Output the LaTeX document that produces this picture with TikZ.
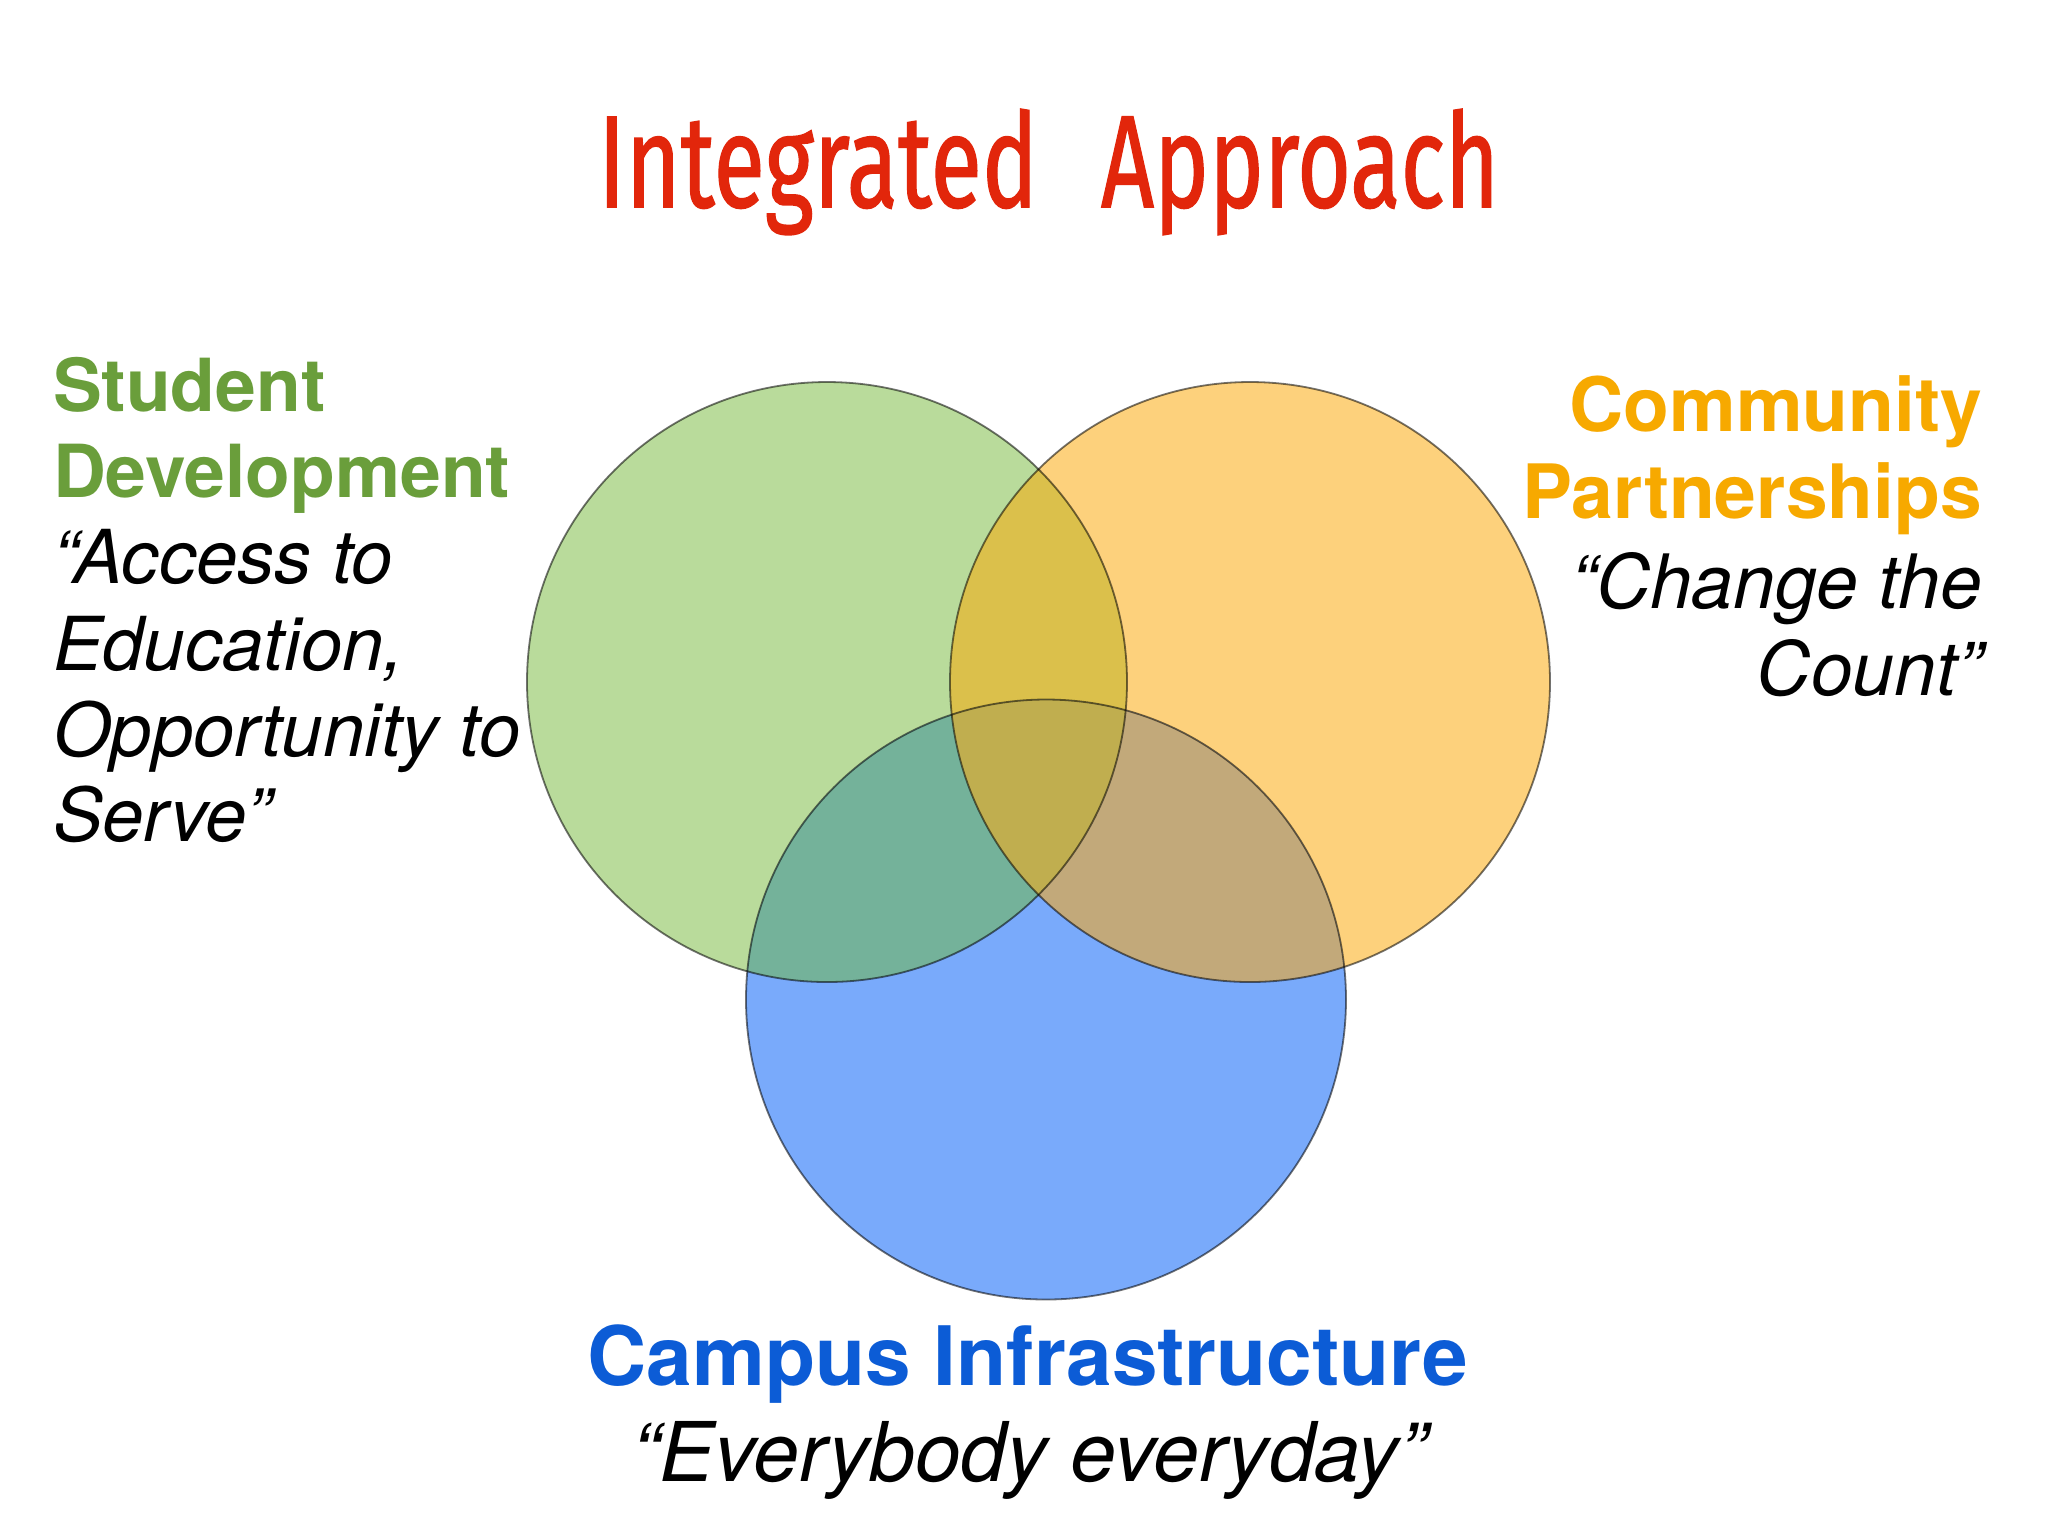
\documentclass[tikz,border=0pt]{standalone}
\usepackage{graphicx}
\usepackage{fontspec}
\setmainfont{TeX Gyre Heros}
\newfontfamily\titlefont[FakeBold=1.2]{Fira Sans}
\definecolor{gfill}{HTML}{B9DB9B}
\definecolor{ofill}{HTML}{FDD17C}
\definecolor{bfill}{HTML}{79AAFB}
\definecolor{gofill}{HTML}{DBC04B}
\definecolor{gbfill}{HTML}{74B29A}
\definecolor{obfill}{HTML}{C2A97A}
\definecolor{allfill}{HTML}{C0AE4F}
\definecolor{gtext}{HTML}{6A9E3B}
\definecolor{otext}{HTML}{F7A900}
\definecolor{btext}{HTML}{0C5CD6}
\definecolor{ttext}{HTML}{E2260B}
\tikzset{
  outline/.style={draw=black, draw opacity=0.55, line width=0.45pt},
  txt/.style={inner sep=0pt, outer sep=0pt},
  ttl/.style={txt, anchor=base west, text=ttext},
  lbold/.style={txt, anchor=base west, text=gtext, font=\fontsize{18.3}{21.5}\selectfont\bfseries},
  lital/.style={txt, anchor=base west, text=black, font=\fontsize{18.6}{21.5}\selectfont\itshape},
  rbold/.style={txt, anchor=base east, text=otext, font=\fontsize{18.75}{22}\selectfont\bfseries},
  rital/.style={txt, anchor=base east, text=black, font=\fontsize{18.75}{22}\selectfont\itshape},
  bbold/.style={txt, anchor=base, text=btext, font=\fontsize{20.5}{24}\selectfont\bfseries},
  bital/.style={txt, anchor=base, text=black, font=\fontsize{20.6}{24}\selectfont\itshape}
}
\begin{document}
\begin{tikzpicture}[x=0.25pt,y=-0.25pt]
\useasboundingbox (0,0) rectangle (2048,1536);
\fill[white] (0,0) rectangle (2048,1536);
\coordinate (cg) at (827,682);
\coordinate (co) at (1250,682);
\coordinate (cb) at (1046,999.5);
\def\R{75pt}
% base fills
\fill[gfill] (cg) circle[radius=\R];
\fill[ofill] (co) circle[radius=\R];
\fill[bfill] (cb) circle[radius=\R];
% overlaps
\begin{scope}
  \clip (cg) circle[radius=\R];
  \fill[gofill] (co) circle[radius=\R];
  \fill[gbfill] (cb) circle[radius=\R];
\end{scope}
\begin{scope}
  \clip (co) circle[radius=\R];
  \fill[obfill] (cb) circle[radius=\R];
  \clip (cg) circle[radius=\R];
  \fill[allfill] (cb) circle[radius=\R];
\end{scope}
% outlines
\draw[outline] (cg) circle[radius=\R];
\draw[outline] (co) circle[radius=\R];
\draw[outline] (cb) circle[radius=\R];
% title
\node[ttl] (title1) at (598,207)
  {\resizebox{110pt}{24.5pt}{\titlefont Integrated}};
\node[ttl] (title2) at (1101,207)
  {\resizebox{99.5pt}{24.5pt}{\titlefont Approach}};
% left block
\node[lbold] (sd1) at (53,411.5) {Student};
\node[lbold] (sd2) at (53,497.5) {Development};
\node[lital] (sd3) at (53,583.5) {“Access to};
\node[lital] (sd4) at (53,670) {Education,};
\node[lital] (sd5) at (53,756.5) {Opportunity to};
\node[lital] (sd6) at (53,841) {Serve”};
% right block
\node[rbold] (cp1) at (1982,431) {Community};
\node[rbold] (cp2) at (1982,518) {Partnerships};
\node[rital] (cp3) at (1982,608) {“Change the};
\node[rital] (cp4) at (1982,695) {Count”};
% bottom block
\node[bbold] (ci1) at (1027.5,1385) {Campus Infrastructure};
\node[bital] (ci2) at (1029.5,1481) {“Everybody everyday”};
\end{tikzpicture}
\end{document}
